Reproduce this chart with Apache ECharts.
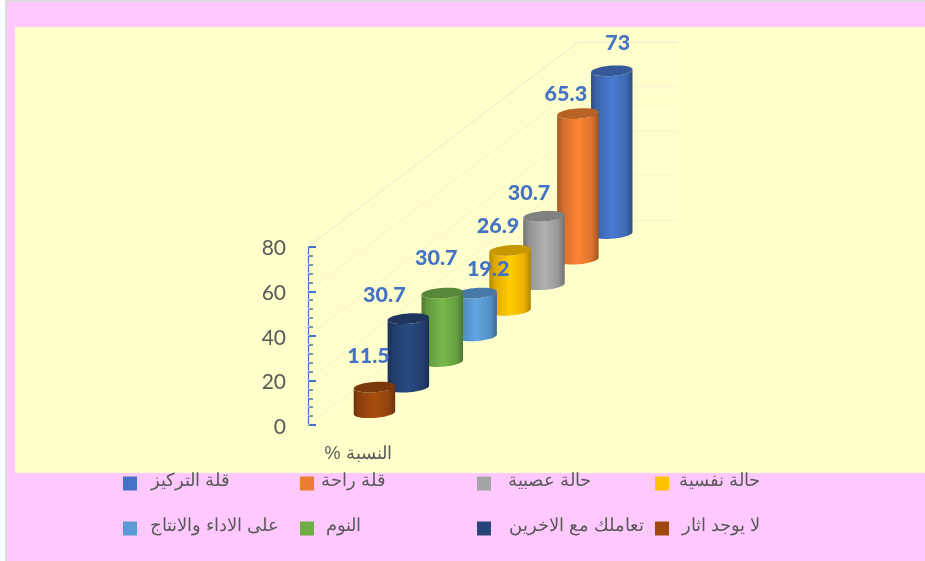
<!DOCTYPE html>
<html><head><meta charset="utf-8">
<style>html,body{margin:0;padding:0;background:#fff}#c{width:925px;height:561px}</style>
<script src="https://cdn.jsdelivr.net/npm/echarts@6/dist/echarts.min.js"></script>
</head><body><div id="c" dir="rtl"></div>
<script>
const categories = ['قلة التركيز','قلة راحة','حالة عصبية','حالة نفسية','على الاداء والانتاج','النوم','تعاملك مع الاخرين','لا يوجد اثار'];
const values = [73,65.3,30.7,26.9,19.2,30.7,30.7,11.5];
const colors = ['#4472c4','#ed7d31','#a5a5a5','#ffc000','#5b9bd5','#70ad47','#264478','#9e480e'];
const wallLevels = [0,4,8,12,16,20,24,28,32,36,40,44,48,52,56,60,64,68,72,76,80];
const labelNudge = [[6,-28],[-12,-20],[-15,-23],[-12,-24],[12,-24],[-6,-35],[-24,-24],[-6,-31]];
const legendSpots = [[123,475,8.5],[300,475,1.5],[477,475,12],[655,475,5],[123,520,8],[300,520,6.5],[477,520,12.5],[655,520,8]];

const AXIS_X=308, GL=357.5, GW=271.2, GT=246.7, GH=178.3;
const STEP=25.6, FRONT=12.3, RX=20.8, RY=5.2, TILT=-0.075;

function shade(hex,f){
  const n=parseInt(hex.slice(1),16);
  const c=[n>>16,(n>>8)&255,n&255].map(v=>Math.max(0,Math.min(255,Math.round(v*f))));
  return 'rgb('+c.join(',')+')';
}
function arc(cx,cy,from,to){
  const pts=[];
  for(let i=0;i<=48;i++){
    const t=from+(to-from)*i/48, ex=RX*Math.cos(t), ey=RY*Math.sin(t);
    pts.push([cx+ex*Math.cos(TILT)-ey*Math.sin(TILT), cy+ex*Math.sin(TILT)+ey*Math.cos(TILT)]);
  }
  return pts;
}
function cylinder(color){
  return function(params,api){
    const idx=api.value(0);
    const k=categories.length-1-idx;
    const base=api.coord([idx,0]), top=api.coord([idx,api.value(1)]);
    const lift=FRONT+k*STEP;
    const x=base[0], yB=base[1]-lift, yT=top[1]-lift;
    const body=arc(x,yB,Math.PI,0).concat(arc(x,yT,0,Math.PI));
    return {type:'group',children:[
      {type:'polygon',shape:{points:body},style:{fill:new echarts.graphic.LinearGradient(0,0,1,0,[
        {offset:0,color:shade(color,0.7)},{offset:0.14,color:shade(color,0.88)},
        {offset:0.5,color:shade(color,1.07)},{offset:0.84,color:shade(color,0.92)},{offset:1,color:shade(color,0.68)}])}},
      {type:'polygon',shape:{points:arc(x,yT,0,Math.PI*2)},style:{fill:shade(color,0.78)}}
    ]};
  };
}
const cylinderSeries = categories.map((name,i)=>({
  type:'custom',name:name,z:3,silent:true,
  itemStyle:{color:colors[i]},
  encode:{x:0,y:1},
  data:[[name,values[i]]],
  renderItem:cylinder(colors[i])
}));
const wallSeries={
  type:'custom',name:'wall',z:1,silent:true,encode:{x:0,y:1},
  data:wallLevels.map(v=>[categories[0],v]),
  renderItem(params,api){
    const v=api.value(1), y=api.coord([0,v])[1];
    return {type:'polyline',shape:{points:[[AXIS_X,y],[AXIS_X+270,y-204.5],[AXIS_X+370,y-204.5]]},
      style:{fill:null,stroke:v===80?'#e8e8d2':(v%20===0?'#f3f3d0':'#f9f9ce'),lineWidth:1}};
  }
};
const labelSeries={
  type:'custom',name:'labels',z:6,silent:true,encode:{x:0,y:1},
  data:categories.map((n,i)=>[n,values[i]]),
  renderItem(params,api){
    const idx=api.value(0), k=categories.length-1-idx;
    const top=api.coord([idx,api.value(1)]), n=labelNudge[params.dataIndex];
    return {type:'text',x:top[0]+n[0],y:top[1]-FRONT-k*STEP+n[1],
      style:{text:String(api.value(1)),fill:'#4472c4',font:'900 21.5px Lato',align:'center',verticalAlign:'middle'}};
  }
};
const chart=echarts.init(document.getElementById('c'),null,{renderer:'canvas'});
chart.setOption({
  animation:false,
  backgroundColor:'#ffc9ff',
  graphic:[
    {type:'rect',z:-10,shape:{x:0,y:0,width:925,height:561},style:{fill:'#ffc9ff'}},
    {type:'rect',z:-9,shape:{x:0,y:0,width:5,height:561},style:{fill:'#ffffff'}},
    {type:'rect',z:-9,shape:{x:5,y:0,width:2,height:561},style:{fill:'#dcdcdc'}},
    {type:'rect',z:-9,shape:{x:5,y:0,width:920,height:2},style:{fill:'#dcdcdc'}},
    {type:'rect',z:-8,shape:{x:15,y:27,width:910,height:446},style:{fill:'#ffffcc'}}
  ],
  grid:{left:GL,top:GT,width:GW,height:GH},
  xAxis:{type:'category',data:categories,inverse:true,show:false},
  yAxis:{type:'value',min:0,max:80,interval:20,offset:GL-AXIS_X,
    name:'النسبة %',nameLocation:'start',nameGap:20,
    nameTextStyle:{color:'#595959',fontSize:18,fontFamily:'Liberation Sans',padding:[0,0,0,100]},
    axisLine:{show:true,lineStyle:{color:'#4472c4',width:1.2}},
    axisTick:{show:true,inside:true,length:8,lineStyle:{color:'#4472c4',width:2}},
    minorTick:{show:true,splitNumber:5,length:5,lineStyle:{color:'#4472c4',width:1.5}},
    splitLine:{show:false},
    axisLabel:{margin:22,formatter:'{a|{value}}',
      rich:{a:{color:'#595959',fontSize:21,fontFamily:'Lato',padding:[4,0,0,0]}}}
  },
  legend:categories.map((name,i)=>({
    left:legendSpots[i][0],top:legendSpots[i][1]-6,padding:[3,0,3,0],
    data:[name],icon:'rect',itemWidth:14,itemHeight:14,selectedMode:false,
    formatter:'{t|{name}}',
    textStyle:{rich:{t:{color:'#595959',fontSize:18,fontFamily:'Liberation Sans',padding:[0,0,5,legendSpots[i][2]]}}}
  })),
  series:[wallSeries].concat(cylinderSeries,[labelSeries])
});
</script></body></html>
